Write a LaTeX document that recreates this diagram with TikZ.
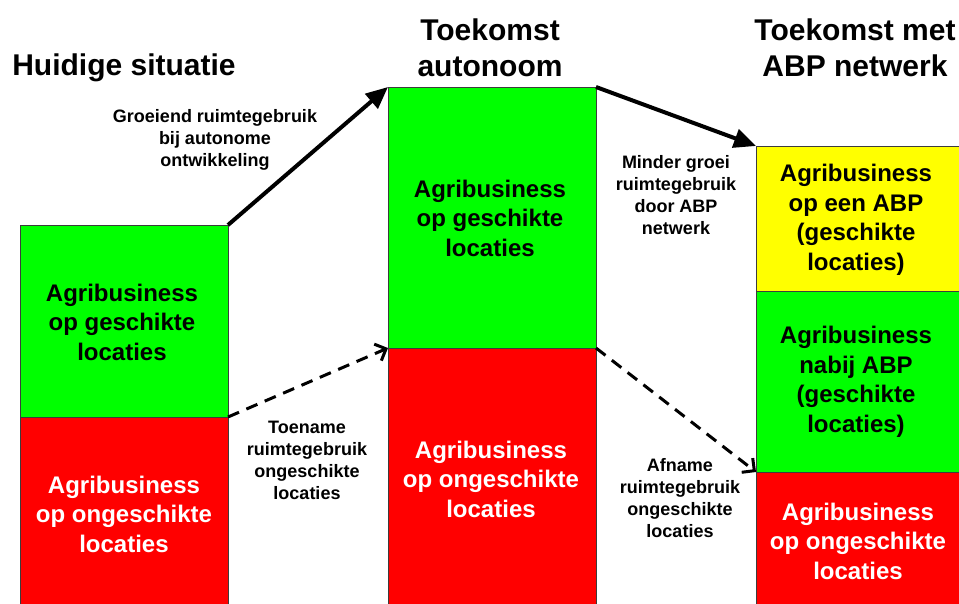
\documentclass[tikz,border=0pt]{standalone}
\usepackage{fontspec}
\setmainfont{Liberation Sans}
\usetikzlibrary{arrows.meta}
\definecolor{boxgreen}{RGB}{0,255,0}
\definecolor{boxred}{RGB}{255,0,0}
\definecolor{boxyellow}{RGB}{255,255,0}
\definecolor{edgegray}{RGB}{60,60,60}
\tikzset{
  block/.style={draw=edgegray, line width=0.8pt, minimum width=208pt, anchor=north west, inner sep=0pt, outer sep=0pt},
  boxtext/.style={align=center, font=\bfseries\fontsize{24}{29.5}\selectfont, inner sep=0pt},
  titletext/.style={align=center, font=\bfseries\fontsize{30}{36}\selectfont, inner sep=0pt},
  notetext/.style={align=center, font=\bfseries\fontsize{18}{22}\selectfont, inner sep=0pt},
  growth/.style={line width=4pt, -{Triangle[length=22pt,width=19pt]}},
  shift arrow/.style={line width=3pt, dash pattern=on 12pt off 8pt, -{Straight Barb[length=9pt,width=18pt,line width=3pt]}}
}
\begin{document}
\begin{tikzpicture}[x=1pt,y=-1pt]
  \useasboundingbox (0,0) rectangle (959,604);
  \clip (0,0) rectangle (959,604);

  % column 1: current situation
  \node[block, fill=boxgreen, minimum height=192pt] (c1g) at (20,225) {};
  \node[block, fill=boxred, minimum height=200pt] (c1r) at (20,417) {};
  % column 2: autonomous future
  \node[block, fill=boxgreen, minimum height=261pt] (c2g) at (388,87) {};
  \node[block, fill=boxred, minimum height=270pt] (c2r) at (388,348) {};
  % column 3: future with ABP network
  \node[block, fill=boxyellow, minimum height=145pt] (c3y) at (756,146) {};
  \node[block, fill=boxgreen, minimum height=181pt] (c3g) at (756,291) {};
  \node[block, fill=boxred, minimum height=150pt] (c3r) at (756,472) {};

  % block labels
  \node[boxtext] (t1g) at (122,322) {Agribusiness\\op geschikte\\locaties};
  \node[boxtext, text=white] (t1r) at (124,514) {Agribusiness\\op ongeschikte\\locaties};
  \node[boxtext] (t2g) at (490,218) {Agribusiness\\op geschikte\\locaties};
  \node[boxtext, text=white] (t2r) at (491,479) {Agribusiness\\op ongeschikte\\locaties};
  \node[boxtext] (t3y) at (856,220) {Agribusiness\\op een ABP\\(geschikte\\locaties)};
  \node[boxtext] (t3g) at (856,382) {Agribusiness\\nabij ABP\\(geschikte\\locaties)};
  \node[boxtext, text=white] (t3r) at (858,541) {Agribusiness\\op ongeschikte\\locaties};

  % column titles
  \node[titletext] (h1) at (124,68) {Huidige situatie};
  \node[titletext] (h2) at (490,48) {Toekomst\\autonoom};
  \node[titletext] (h3) at (855,48) {Toekomst met\\ABP netwerk};

  % transitions
  \draw[growth] (c1g.north east) -- (c2g.north west);
  \draw[growth] (c2g.north east) -- (c3y.north west);
  \draw[shift arrow] (c1r.north east) -- (c2r.north west);
  \draw[shift arrow] (c2r.north east) -- (c3r.north west);

  % transition notes
  \node[notetext] (n1) at (215,140) {Groeiend ruimtegebruik\\bij autonome\\ontwikkeling};
  \node[notetext] (n2) at (307,460) {Toename\\ruimtegebruik\\ongeschikte\\locaties};
  \node[notetext] (n3) at (676,195) {Minder groei\\ruimtegebruik\\door ABP\\netwerk};
  \node[notetext] (n4) at (680,498) {Afname\\ruimtegebruik\\ongeschikte\\locaties};
\end{tikzpicture}
\end{document}
